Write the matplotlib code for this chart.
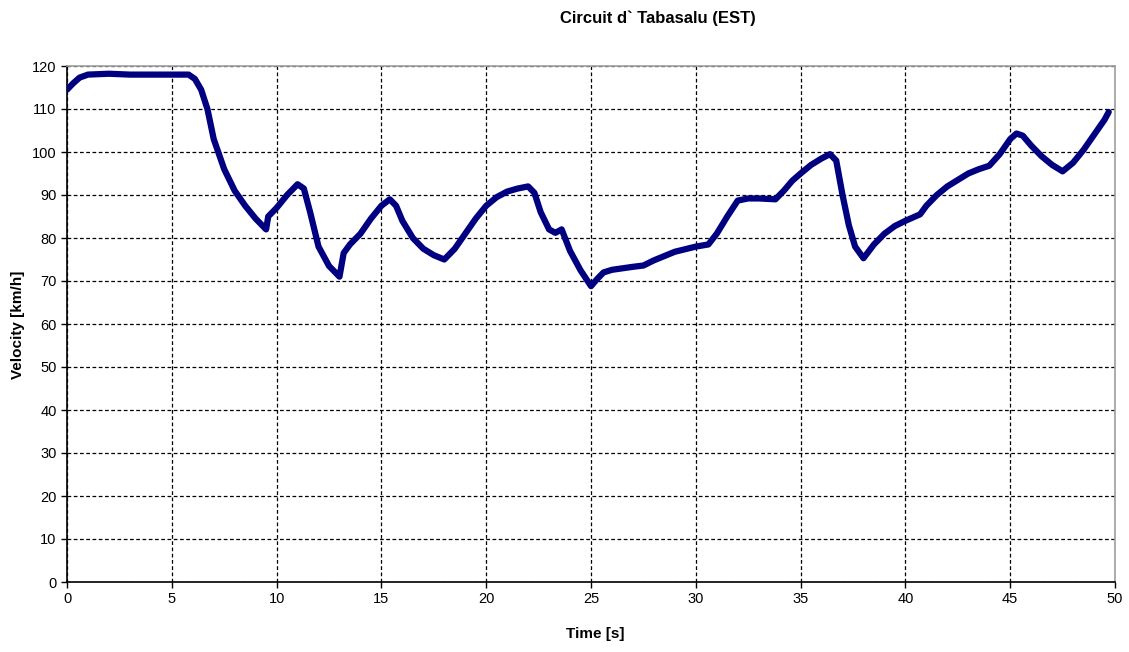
import matplotlib
matplotlib.use("Agg")
import matplotlib.pyplot as plt

time_s = [0.0, 0.3, 0.6, 1.0, 2.0, 3.0, 4.0, 5.0, 5.8, 6.1, 6.4, 6.7, 7.0, 7.5, 8.0, 8.5, 9.0, 9.5,
          9.6, 10.0, 10.5, 11.0, 11.3, 11.6, 12.0, 12.5, 13.0, 13.2, 13.5, 14.0, 14.5, 15.0, 15.4,
          15.7, 16.0, 16.5, 17.0, 17.5, 18.0, 18.5, 19.0, 19.5, 20.0, 20.5, 21.0, 21.5, 22.0,
          22.3, 22.6, 23.0, 23.3, 23.6, 24.0, 24.5, 25.0, 25.3, 25.6, 26.0, 27.0, 27.5, 28.0,
          29.0, 30.0, 30.6, 31.0, 31.5, 32.0, 32.5, 33.0, 33.8, 34.2, 34.6, 35.0, 35.5, 36.0,
          36.4, 36.7, 37.0, 37.3, 37.6, 38.0, 38.5, 39.0, 39.5, 40.0, 40.7, 41.0, 41.5, 42.0,
          42.5, 43.0, 43.5, 44.0, 44.5, 45.0, 45.3, 45.6, 46.0, 46.5, 47.0, 47.5, 48.0, 48.5,
          49.0, 49.5, 49.7]
velocity = [114.5, 116.0, 117.3, 118.0, 118.2, 118.0, 118.0, 118.0, 118.0, 117.0, 114.5, 110.0,
            103.0, 96.0, 91.0, 87.5, 84.5, 82.0,
            85.0, 87.0, 90.0, 92.5, 91.5, 86.0, 78.0, 73.5, 71.0, 76.5, 78.5, 81.0, 84.5, 87.5, 89.0,
            87.5, 84.0, 80.0, 77.5, 76.0, 75.0, 77.5, 81.0, 84.5, 87.5, 89.5, 90.8, 91.5, 92.0,
            90.5, 86.0, 82.0, 81.2, 82.0, 77.0, 72.5, 68.8, 70.5, 72.0, 72.6, 73.3, 73.6, 74.8,
            76.8, 78.0, 78.5, 81.0, 85.0, 88.7, 89.2, 89.2, 89.0, 91.0, 93.3, 95.0, 97.0, 98.5,
            99.5, 98.0, 90.0, 83.0, 78.0, 75.3, 78.5, 81.0, 82.8, 84.0, 85.5, 87.5, 90.0, 92.0,
            93.5, 95.0, 96.0, 96.8, 99.5, 103.0, 104.3, 103.8, 101.5, 99.0, 97.0, 95.5, 97.5, 100.5,
            104.0, 107.5, 109.3]

x_ticks = [0, 5, 10, 15, 20, 25, 30, 35, 40, 45, 50]
y_ticks = [0, 10, 20, 30, 40, 50, 60, 70, 80, 90, 100, 110, 120]

plt.rcParams['font.family'] = ['Liberation Sans', 'DejaVu Sans']

fig = plt.figure(figsize=(11.29, 6.52), dpi=100)
ax = fig.add_axes([67/1129, 1 - 582/652, (1115-67)/1129, (582-66)/652])

ax.plot(time_s, velocity, color='#000080', linewidth=4.5, solid_capstyle='round',
        solid_joinstyle='round', zorder=3)

ax.set_xlim(0, 50)
ax.set_ylim(0, 120)
ax.set_xticks(x_ticks)
ax.set_yticks(y_ticks)
ax.tick_params(axis='both', labelsize=10.5, direction='out', length=4, width=1, color='black')
ax.grid(True, color='black', linestyle=(0, (3, 2)), linewidth=0.9)
ax.set_axisbelow(True)

for s in ['left', 'bottom']:
    ax.spines[s].set_color('black')
    ax.spines[s].set_linewidth(1.2)
for s in ['top', 'right']:
    ax.spines[s].set_color('#a0a0a0')
    ax.spines[s].set_linewidth(1.2)

fig.text(658/1129, 1 - 18/652, 'Circuit d` Tabasalu (EST)', ha='center', va='center',
         fontsize=12, fontweight='bold')
fig.text(595/1129, 1 - 634/652, 'Time [s]', ha='center', va='center',
         fontsize=11, fontweight='bold')
fig.text(18/1129, 1 - 325/652, 'Velocity [km/h]', ha='center', va='center', rotation=90,
         fontsize=11, fontweight='bold')

fig.savefig('out.png', dpi=100)
